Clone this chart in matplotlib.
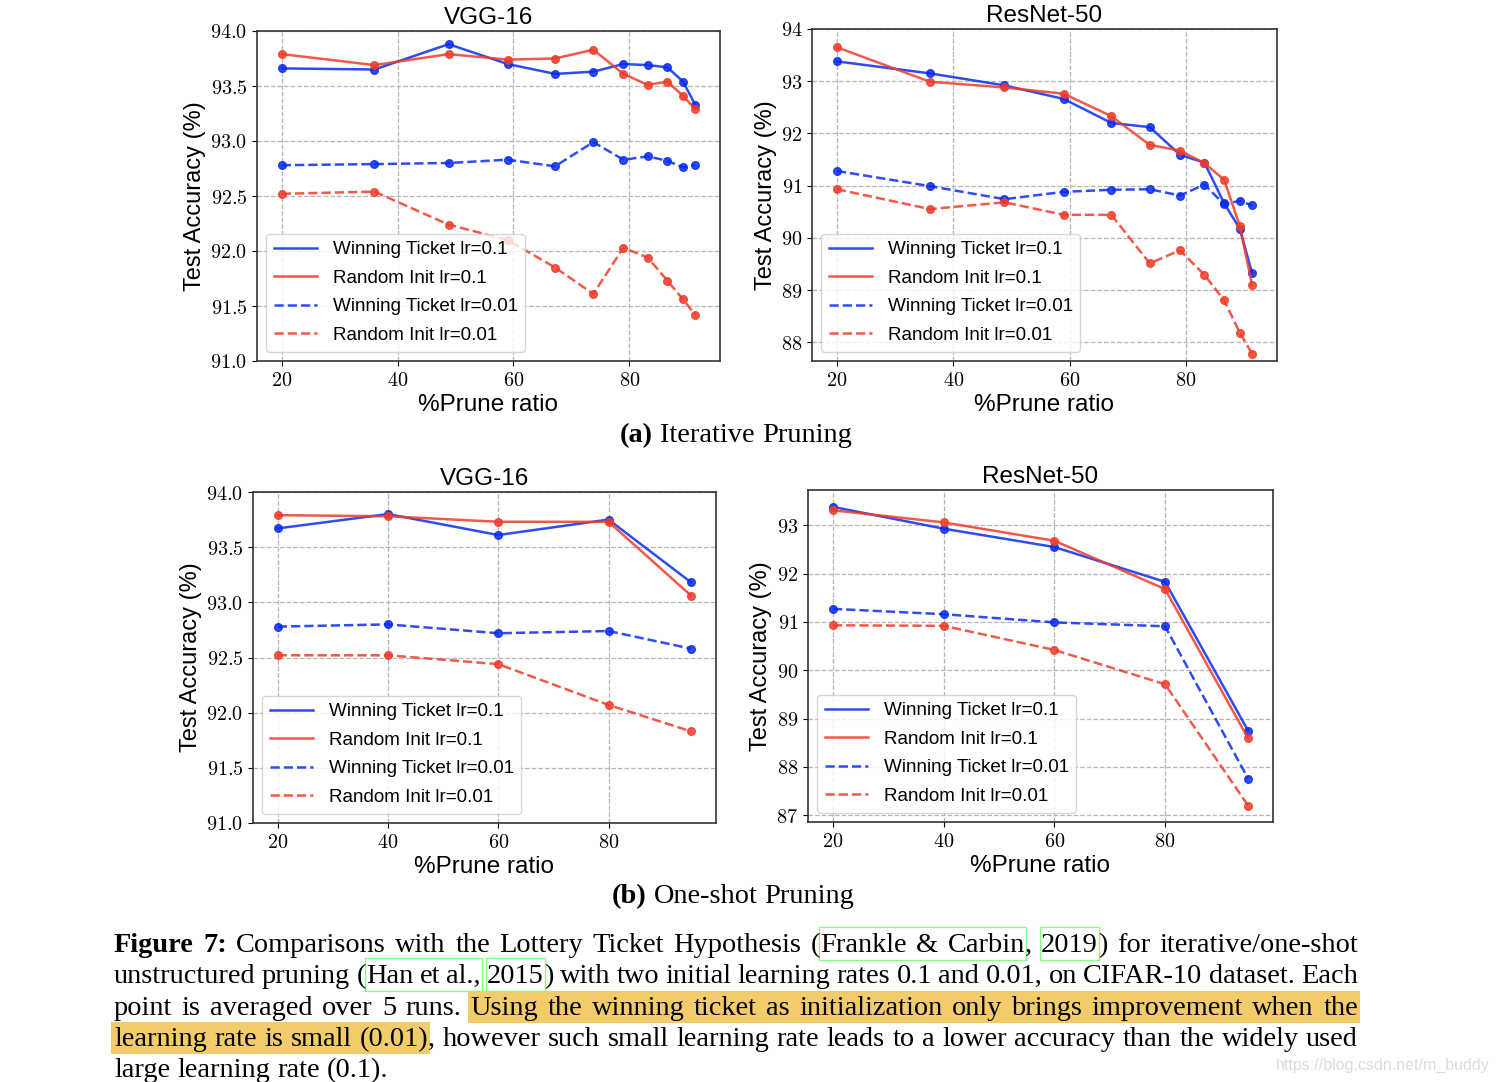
import matplotlib
matplotlib.use("Agg")
import matplotlib.pyplot as plt
from matplotlib.ticker import FuncFormatter, FixedLocator
from matplotlib.patches import Rectangle

plt.rcParams['font.family'] = 'Liberation Sans'
plt.rcParams['mathtext.fontset'] = 'cm'

# prune ratios (%)
iter_ratio = [20, 36, 48.8, 59, 67.2, 73.8, 79, 83.2, 86.6, 89.3, 91.4]
oneshot_ratio = [20, 40, 60, 80, 95]

# (a) iterative pruning, VGG-16
vgg_it_wt01 = [93.66, 93.65, 93.88, 93.70, 93.61, 93.63, 93.70, 93.69, 93.67, 93.54, 93.33]
vgg_it_ri01 = [93.79, 93.69, 93.79, 93.74, 93.75, 93.83, 93.61, 93.51, 93.54, 93.41, 93.29]
vgg_it_wt001 = [92.78, 92.79, 92.80, 92.83, 92.77, 92.99, 92.83, 92.86, 92.82, 92.76, 92.78]
vgg_it_ri001 = [92.52, 92.54, 92.24, 92.10, 91.85, 91.61, 92.03, 91.94, 91.73, 91.56, 91.42]

# (a) iterative pruning, ResNet-50
res_it_wt01 = [93.38, 93.15, 92.92, 92.66, 92.20, 92.12, 91.59, 91.44, 90.66, 90.17, 89.32]
res_it_ri01 = [93.65, 92.99, 92.88, 92.76, 92.33, 91.78, 91.67, 91.43, 91.11, 90.22, 89.10]
res_it_wt001 = [91.28, 90.99, 90.74, 90.88, 90.92, 90.93, 90.81, 91.02, 90.64, 90.71, 90.62]
res_it_ri001 = [90.93, 90.55, 90.68, 90.44, 90.44, 89.51, 89.76, 89.29, 88.80, 88.18, 87.78]

# (b) one-shot pruning, VGG-16
vgg_os_wt01 = [93.67, 93.80, 93.61, 93.75, 93.18]
vgg_os_ri01 = [93.79, 93.78, 93.73, 93.73, 93.06]
vgg_os_wt001 = [92.78, 92.80, 92.72, 92.74, 92.58]
vgg_os_ri001 = [92.52, 92.52, 92.44, 92.07, 91.83]

# (b) one-shot pruning, ResNet-50
res_os_wt01 = [93.38, 92.93, 92.55, 91.83, 88.75]
res_os_ri01 = [93.31, 93.06, 92.68, 91.68, 88.59]
res_os_wt001 = [91.27, 91.16, 90.99, 90.91, 87.76]
res_os_ri001 = [90.93, 90.92, 90.42, 89.71, 87.20]

labels = ["Winning Ticket lr=0.1", "Random Init lr=0.1",
          "Winning Ticket lr=0.01", "Random Init lr=0.01"]
colors = ['#0a2cf0', '#f03c2a', '#0a2cf0', '#f03c2a']
styles = ['-', '-', '--', '--']

W, H = 1500, 1082
fig = plt.figure(figsize=(W / 100, H / 100), dpi=100)
renderer = fig.canvas.get_renderer()


def fx(x):
    return x / W


def fy(y):
    return 1 - y / H


def panel(box, x, series, title, ylim, yticks, fmt):
    l, t, r, b = box
    ax = fig.add_axes([fx(l), fy(b), (r - l) / W, (b - t) / H])
    for ys, lab, c, ls in zip(series, labels, colors, styles):
        ax.plot(x, ys, color=c, ls=ls, lw=1.8, alpha=0.85, label=lab)
        ax.plot(x, ys, 'o', color=c, ms=5.5, alpha=0.85)
    ax.margins(x=0.06)
    ax.set_ylim(*ylim)
    ax.yaxis.set_major_locator(FixedLocator(yticks))
    ax.xaxis.set_major_locator(FixedLocator([20, 40, 60, 80]))
    ax.yaxis.set_major_formatter(FuncFormatter(lambda v, p: fmt % v))
    ax.xaxis.set_major_formatter(FuncFormatter(lambda v, p: r'$%d$' % v))
    ax.tick_params(labelsize=14.5)
    ax.grid(True, ls='--', color='#b5b5b5', lw=0.9)
    for s in ax.spines.values():
        s.set_color('#333333')
        s.set_linewidth(1.2)
    ax.set_title(title, fontsize=17.5, pad=5)
    ax.set_xlabel("%Prune ratio", fontsize=17.5, labelpad=3)
    ax.set_ylabel("Test Accuracy (%)", fontsize=17, labelpad=3)
    ax.legend(loc='lower left', fontsize=13.6, handlelength=2.3,
              labelspacing=0.6, framealpha=0.8)
    return ax


panel((257, 31, 720, 361), iter_ratio,
      [vgg_it_wt01, vgg_it_ri01, vgg_it_wt001, vgg_it_ri001],
      "VGG-16", (91.0, 94.0), [91, 91.5, 92, 92.5, 93, 93.5, 94], r'$%.1f$')
panel((812, 29, 1277, 361), iter_ratio,
      [res_it_wt01, res_it_ri01, res_it_wt001, res_it_ri001],
      "ResNet-50", (87.64, 94.0), [88, 89, 90, 91, 92, 93, 94], r'$%d$')
panel((253, 492, 716, 823), oneshot_ratio,
      [vgg_os_wt01, vgg_os_ri01, vgg_os_wt001, vgg_os_ri001],
      "VGG-16", (91.0, 94.0), [91, 91.5, 92, 92.5, 93, 93.5, 94], r'$%.1f$')
panel((808, 490, 1273, 822), oneshot_ratio,
      [res_os_wt01, res_os_ri01, res_os_wt001, res_os_ri001],
      "ResNet-50", (86.86, 93.73), [87, 88, 89, 90, 91, 92, 93], r'$%d$')

# caption text, laid out word by word
CAP_FS = 20.4


def set_line(line, y, x0=114, x1=None, center=None):
    words = []
    for w in line.split(' '):
        pieces = []
        for p in w.split('|'):
            s, _, tag = p.partition('@')
            t = fig.text(0, fy(y), s, fontsize=CAP_FS, family='Liberation Serif',
                         weight='bold' if tag == 'B' else 'normal',
                         va='baseline', ha='left')
            pieces.append((t, tag, t.get_window_extent(renderer).width))
        words.append(pieces)
    widths = [sum(p[2] for p in w) for w in words]
    space = CAP_FS * 100 / 72 * 0.25
    if x1 is not None:
        space = (x1 - x0 - sum(widths)) / (len(words) - 1)
    if center is not None:
        x0 = center - (sum(widths) + space * (len(words) - 1)) / 2
    spans = {}
    x = x0
    for w in words:
        for t, tag, wd in w:
            t.set_x(fx(x))
            if tag and tag != 'B':
                a, b = spans.get(tag, (x, x + wd))
                spans[tag] = (min(a, x), max(b, x + wd))
            x += wd
        x += space
    return spans


def rect(x0, x1, y0, y1, **kw):
    fig.add_artist(Rectangle((fx(x0), fy(y1)), (x1 - x0) / W, (y1 - y0) / H,
                             transform=fig.transFigure, **kw))


set_line("(a)@B Iterative Pruning", 442, center=736)
set_line("(b)@B One-shot Pruning", 903, center=733)

hl = lambda s: " ".join(w + "@H" for w in s.split())
cap = [
    ("Figure@B 7:@B Comparisons with the Lottery Ticket Hypothesis "
     "(|Frankle@L1 &@L1 Carbin@L1|, 2019@L2|) for iterative/one-shot", 952, True),
    ("unstructured pruning (|Han@L3 et@L3 al.,@L3 2015@L4|) with two initial "
     "learning rates 0.1 and 0.01, on CIFAR-10 dataset. Each", 983, True),
    ("point is averaged over 5 runs. " + hl("Using the winning ticket as "
     "initialization only brings improvement when the"), 1015, True),
    (hl("learning rate is small") + " (0.01)@H|, however such small learning "
     "rate leads to a lower accuracy than the widely used", 1046, True),
    ("large learning rate (0.1).", 1077, False),
]
for text, y, just in cap:
    spans = set_line(text, y, 114, 1358 if just else None)
    for tag, (a, b) in spans.items():
        if tag == 'H':
            rect(a - 3, b + 2, y - 24, y + 8, facecolor='#f2cc6b',
                 edgecolor='none', zorder=0)
        else:
            rect(a - 1, b + 1, y - 25, y + 8, facecolor='none',
                 edgecolor='#80ff80', lw=0.9, zorder=2)

fig.text(fx(1490), fy(1070), "https://blog.csdn.net/m_buddy", ha='right',
         va='baseline', color='#dcdcdc', fontsize=11.5, family='Liberation Sans')

fig.savefig("out.png", dpi=100)
